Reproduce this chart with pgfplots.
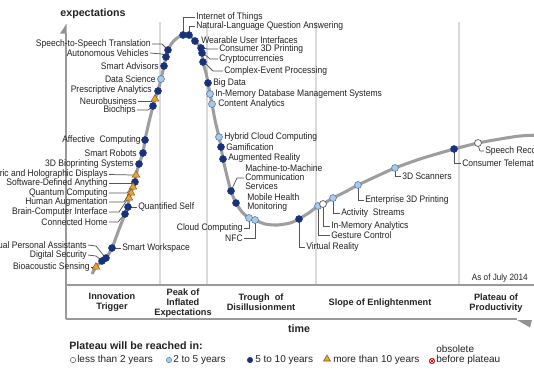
\documentclass[border=0pt]{standalone}
\usepackage{fontspec}
\setmainfont{Liberation Sans}
\newfontfamily\nar{Liberation Sans}[FakeStretch=0.9]
\usepackage{pgfplots}
\pgfplotsset{compat=1.18}
\definecolor{dk}{HTML}{17317A}
\definecolor{lt}{HTML}{A9CBE8}
\definecolor{ltd}{HTML}{5A80B2}
\definecolor{tri}{HTML}{E8A53A}
\definecolor{trid}{HTML}{8A5A10}
\definecolor{txt}{HTML}{222222}
\definecolor{curve}{HTML}{9E9E9E}
\definecolor{divc}{HTML}{DADADA}
\definecolor{ldc}{HTML}{555555}
\tikzset{
  lab/.style={font=\nar\fontsize{7.1}{6.9}\selectfont, inner sep=0pt, text=txt, align=left},
  ld/.style={draw=ldc, line width=0.55pt},
  band/.style={font=\bfseries\fontsize{6.9}{7.5}\selectfont, inner sep=0pt, text=txt, align=center},
}
\begin{document}
\begin{tikzpicture}
\begin{axis}[scale only axis, width=400.5pt, height=281.25pt,
  xmin=0, xmax=534, ymin=0, ymax=375, y dir=reverse,
  hide axis, clip=false]
\coordinate (LL) at (axis cs:0,375);
\coordinate (UR) at (axis cs:534,0);
% phase dividers
\draw[divc, line width=1.1pt] (axis cs:160,22) -- (axis cs:160,285);
\draw[divc, line width=1.1pt] (axis cs:207,22) -- (axis cs:207,285);
\draw[divc, line width=1.1pt] (axis cs:316,22) -- (axis cs:316,285);
\draw[divc, line width=1.1pt] (axis cs:459,22) -- (axis cs:459,285);
% axis frame
\draw[color=gray!80, line width=0.8pt] (axis cs:66,33) -- (axis cs:66,319);
\fill[gray!85] (axis cs:66.7,23.5) -- (axis cs:66.7,33.5) -- (axis cs:60,33.5) -- cycle;
\draw[color=gray!80, line width=0.8pt] (axis cs:66,285) -- (axis cs:534,285);
\draw[color=gray!80, line width=0.8pt] (axis cs:66,319) -- (axis cs:517,319);
\fill[gray!85] (axis cs:517,320) -- (axis cs:532,320) -- (axis cs:530,327.5) -- cycle;
% curve
\addplot[curve, line width=2.3pt, smooth, tension=0.45] coordinates {
(92,274) (96,267) (102,261) (106,258) (112,248) (118,232) (125,214) (128,207)
(129,198) (131,193) (133,187) (135,182) (136,175) (139,164) (143,153) (145,140)
(149,122) (153,106) (155,99) (158,91) (161,79) (164,66) (166,57) (168,50)
(172,43) (177,38) (183,35) (189,35) (195,41) (201,48) (202,53) (203,62)
(206,73) (208,83) (210,94) (212,104) (215,120) (219,137) (221,147) (223,159)
(227,176) (231,191) (236,203) (242,212) (249,218) (255,220) (265,224) (277,225)
(290,223) (299,219) (310,212) (318,206) (323,204) (333,198) (345,192) (358,185)
(375,177) (395,168) (420,159) (440,153) (454,149) (478,143) (500,139) (520,136) (540,135)
};
% leaders
\draw[ld] (axis cs:152,44) -- (axis cs:162,44) -- (axis cs:167,49);
\draw[ld] (axis cs:150,53) -- (axis cs:162,54) -- (axis cs:165,56);
\draw[ld] (axis cs:138,101) -- (axis cs:152,101);
\draw[ld] (axis cs:137,110) -- (axis cs:148,110) -- (axis cs:152,107);
\draw[ld] (axis cs:109,174.5) -- (axis cs:133,175);
\draw[ld] (axis cs:109,183) -- (axis cs:132,183);
\draw[ld] (axis cs:109,193) -- (axis cs:127,193) -- (axis cs:131,188);
\draw[ld] (axis cs:109,202) -- (axis cs:124,202) -- (axis cs:128,195);
\draw[ld] (axis cs:109,212) -- (axis cs:119,212) -- (axis cs:127,200);
\draw[ld] (axis cs:128,207) -- (axis cs:137,207);
\draw[ld] (axis cs:109,222) -- (axis cs:118,222) -- (axis cs:124,215);
\draw[ld] (axis cs:112,248) -- (axis cs:121,248);
\draw[ld] (axis cs:88,245) -- (axis cs:96,246) -- (axis cs:104,256);
\draw[ld] (axis cs:88,255) -- (axis cs:96,256) -- (axis cs:101,260);
\draw[ld] (axis cs:91,267) -- (axis cs:94,267);
\draw[ld] (axis cs:183,34) -- (axis cs:183,17) -- (axis cs:195,17);
\draw[ld] (axis cs:189,34) -- (axis cs:189,26) -- (axis cs:195,26);
\draw[ld] (axis cs:202,48) -- (axis cs:208,49) -- (axis cs:218,49);
\draw[ld] (axis cs:203,53) -- (axis cs:210,59) -- (axis cs:218,59);
\draw[ld] (axis cs:204,62) -- (axis cs:213,71) -- (axis cs:223,71);
\draw[ld] (axis cs:231,191) -- (axis cs:237,178) -- (axis cs:244,178);
\draw[ld] (axis cs:249,220) -- (axis cs:249,228) -- (axis cs:244,228);
\draw[ld] (axis cs:255,222) -- (axis cs:255,238) -- (axis cs:244,238);
\draw[ld] (axis cs:299,221) -- (axis cs:299,247) -- (axis cs:305,247);
\draw[ld] (axis cs:318,208) -- (axis cs:318,235) -- (axis cs:330,235);
\draw[ld] (axis cs:323,206) -- (axis cs:323,226) -- (axis cs:330,226);
\draw[ld] (axis cs:333,200) -- (axis cs:333,213) -- (axis cs:340,213);
\draw[ld] (axis cs:358,187) -- (axis cs:358,200) -- (axis cs:364,200);
\draw[ld] (axis cs:395,170) -- (axis cs:395,176) -- (axis cs:401,176);
\draw[ld] (axis cs:454,151) -- (axis cs:454,163) -- (axis cs:461,163);
\draw[ld] (axis cs:478,145) -- (axis cs:480,151) -- (axis cs:484,151);
% markers: 5 to 10 years
\addplot[only marks, mark=*, mark size=2.6pt, mark options={fill=dk, draw=dk}] coordinates {
(168,50) (166,57) (164,66) (158,91) (153,106) (145,140) (143,153) (139,164)
(135,182) (128,207) (125,214) (112,248) (106,258) (102,261) (183,35) (189,35)
(195,41) (201,48) (202,53) (203,62) (208,83) (221,147) (223,159) (231,191)
(236,203) (299,219) (454,149)
};
% 2 to 5 years
\addplot[only marks, mark=*, mark size=2.6pt, mark options={fill=lt, draw=ltd, line width=0.5pt}] coordinates {
(161,79) (210,94) (212,104) (219,137) (249,218) (255,220) (318,206) (333,198) (358,185) (395,168)
};
% less than 2 years
\addplot[only marks, mark=*, mark size=2.6pt, mark options={fill=white, draw=ldc, line width=0.5pt}] coordinates {
(323,204) (478,143)
};
% more than 10 years
\addplot[only marks, mark=triangle*, mark size=3.3pt, mark options={fill=tri, draw=trid, line width=0.4pt}] coordinates {
(155,99) (136,175) (133,187) (131,193) (129,198) (96,267)
};
% left labels
\node[lab, anchor=east] at (axis cs:151,44) {Speech-to-Speech Translation};
\node[lab, anchor=east] at (axis cs:149,53) {Autonomous Vehicles};
\node[lab, anchor=east] at (axis cs:159,66) {Smart Advisors};
\node[lab, anchor=east] at (axis cs:156,79) {Data Science};
\node[lab, anchor=east] at (axis cs:152,90) {Prescriptive Analytics};
\node[lab, anchor=east] at (axis cs:137,101) {Neurobusiness};
\node[lab, anchor=east] at (axis cs:136,110) {Biochips};
\node[lab, anchor=east] at (axis cs:141,140) {Affective\ \ Computing};
\node[lab, anchor=east] at (axis cs:137,153) {Smart Robots};
\node[lab, anchor=east] at (axis cs:134,164) {3D Bioprinting Systems};
\node[lab, anchor=east] at (axis cs:108,174) {Volumetric and Holographic Displays};
\node[lab, anchor=east] at (axis cs:108,183) {Software-Defined Anything};
\node[lab, anchor=east] at (axis cs:108,193) {Quantum Computing};
\node[lab, anchor=east] at (axis cs:108,202) {Human Augmentation};
\node[lab, anchor=east] at (axis cs:108,212) {Brain-Computer Interface};
\node[lab, anchor=east] at (axis cs:108,222) {Connected Home};
\node[lab, anchor=east] at (axis cs:87,245) {Virtual Personal Assistants};
\node[lab, anchor=east] at (axis cs:87,255) {Digital Security};
\node[lab, anchor=east] at (axis cs:90,267) {Bioacoustic Sensing};
\node[lab, anchor=west] at (axis cs:138,207) {Quantified Self};
\node[lab, anchor=west] at (axis cs:122,248) {Smart Workspace};
% right labels
\node[lab, anchor=west] at (axis cs:196,17) {Internet of Things};
\node[lab, anchor=west] at (axis cs:196,26) {Natural-Language Question Answering};
\node[lab, anchor=west] at (axis cs:201,40) {Wearable User Interfaces};
\node[lab, anchor=west] at (axis cs:219,49) {Consumer 3D Printing};
\node[lab, anchor=west] at (axis cs:219,59) {Cryptocurrencies};
\node[lab, anchor=west] at (axis cs:224,71) {Complex-Event Processing};
\node[lab, anchor=west] at (axis cs:213,83) {Big Data};
\node[lab, anchor=west] at (axis cs:215,94) {In-Memory Database Management Systems};
\node[lab, anchor=west] at (axis cs:218,104) {Content Analytics};
\node[lab, anchor=west] at (axis cs:224,137) {Hybrid Cloud Computing};
\node[lab, anchor=west] at (axis cs:226,147) {Gamification};
\node[lab, anchor=west] at (axis cs:228,158) {Augmented Reality};
\node[lab, anchor=west] at (axis cs:245,177) {Machine-to-Machine\\Communication\\Services};
\node[lab, anchor=west] at (axis cs:247,202.5) {Mobile Health\\Monitoring};
\node[lab, anchor=east] at (axis cs:243,228) {Cloud Computing};
\node[lab, anchor=east] at (axis cs:243,238) {NFC};
\node[lab, anchor=west] at (axis cs:306,247) {Virtual Reality};
\node[lab, anchor=west] at (axis cs:331,226) {In-Memory Analytics};
\node[lab, anchor=west] at (axis cs:331,235) {Gesture Control};
\node[lab, anchor=west] at (axis cs:341,213) {Activity\ \ Streams};
\node[lab, anchor=west] at (axis cs:365,200) {Enterprise 3D Printing};
\node[lab, anchor=west] at (axis cs:402,176) {3D Scanners};
\node[lab, anchor=west] at (axis cs:462,163) {Consumer Telematics};
\node[lab, anchor=west] at (axis cs:485,151) {Speech Recognition};
% titles
\node[font=\bfseries\fontsize{8}{9}\selectfont, inner sep=0pt, text=txt] at (axis cs:93,14) {expectations};
\node[font=\bfseries\fontsize{8}{9}\selectfont, inner sep=0pt, text=txt] at (axis cs:299,329) {time};
\node[lab, anchor=east, font=\nar\fontsize{6.8}{7}\selectfont] at (axis cs:528,278) {As of July 2014};
% band labels
\node[band] at (axis cs:112,302) {Innovation\\Trigger};
\node[band] at (axis cs:183,303) {Peak of\\Inflated\\Expectations};
\node[band] at (axis cs:261,302.5) {Trough\ \ of\\Disillusionment};
\node[band] at (axis cs:380,303) {Slope of Enlightenment};
\node[band] at (axis cs:496,303.5) {Plateau of\\Productivity};
% legend
\node[font=\bfseries\fontsize{8}{9}\selectfont, inner sep=0pt, text=txt, anchor=west] at (axis cs:69,346) {Plateau will be reached in:};
\addplot[only marks, mark=*, mark size=2pt, mark options={fill=white, draw=ldc, line width=0.4pt}] coordinates {(73,360)};
\addplot[only marks, mark=*, mark size=2pt, mark options={fill=lt, draw=ltd, line width=0.4pt}] coordinates {(169,360)};
\addplot[only marks, mark=*, mark size=2pt, mark options={fill=dk, draw=dk}] coordinates {(250,360)};
\addplot[only marks, mark=triangle*, mark size=3pt, mark options={fill=tri, draw=trid, line width=0.4pt}] coordinates {(327,359)};
\addplot[only marks, mark=otimes*, mark size=2.1pt, mark options={fill=pink!60, draw=red!70!black, line width=0.4pt}] coordinates {(432,361)};
\node[font=\fontsize{7.5}{8}\selectfont, inner sep=0pt, text=txt, anchor=west] at (axis cs:77,360) {less than 2 years};
\node[font=\fontsize{7.5}{8}\selectfont, inner sep=0pt, text=txt, anchor=west] at (axis cs:173,360) {2 to 5 years};
\node[font=\fontsize{7.5}{8}\selectfont, inner sep=0pt, text=txt, anchor=west] at (axis cs:255,360) {5 to 10 years};
\node[font=\fontsize{7.5}{8}\selectfont, inner sep=0pt, text=txt, anchor=west] at (axis cs:333,360) {more than 10 years};
\node[font=\fontsize{7.5}{8}\selectfont, inner sep=0pt, text=txt, anchor=west] at (axis cs:436,349) {obsolete};
\node[font=\fontsize{7.5}{8}\selectfont, inner sep=0pt, text=txt, anchor=west] at (axis cs:436,360) {before plateau};
\end{axis}
\pgfresetboundingbox
\path[use as bounding box] (LL) rectangle (UR);
\end{tikzpicture}
\end{document}
